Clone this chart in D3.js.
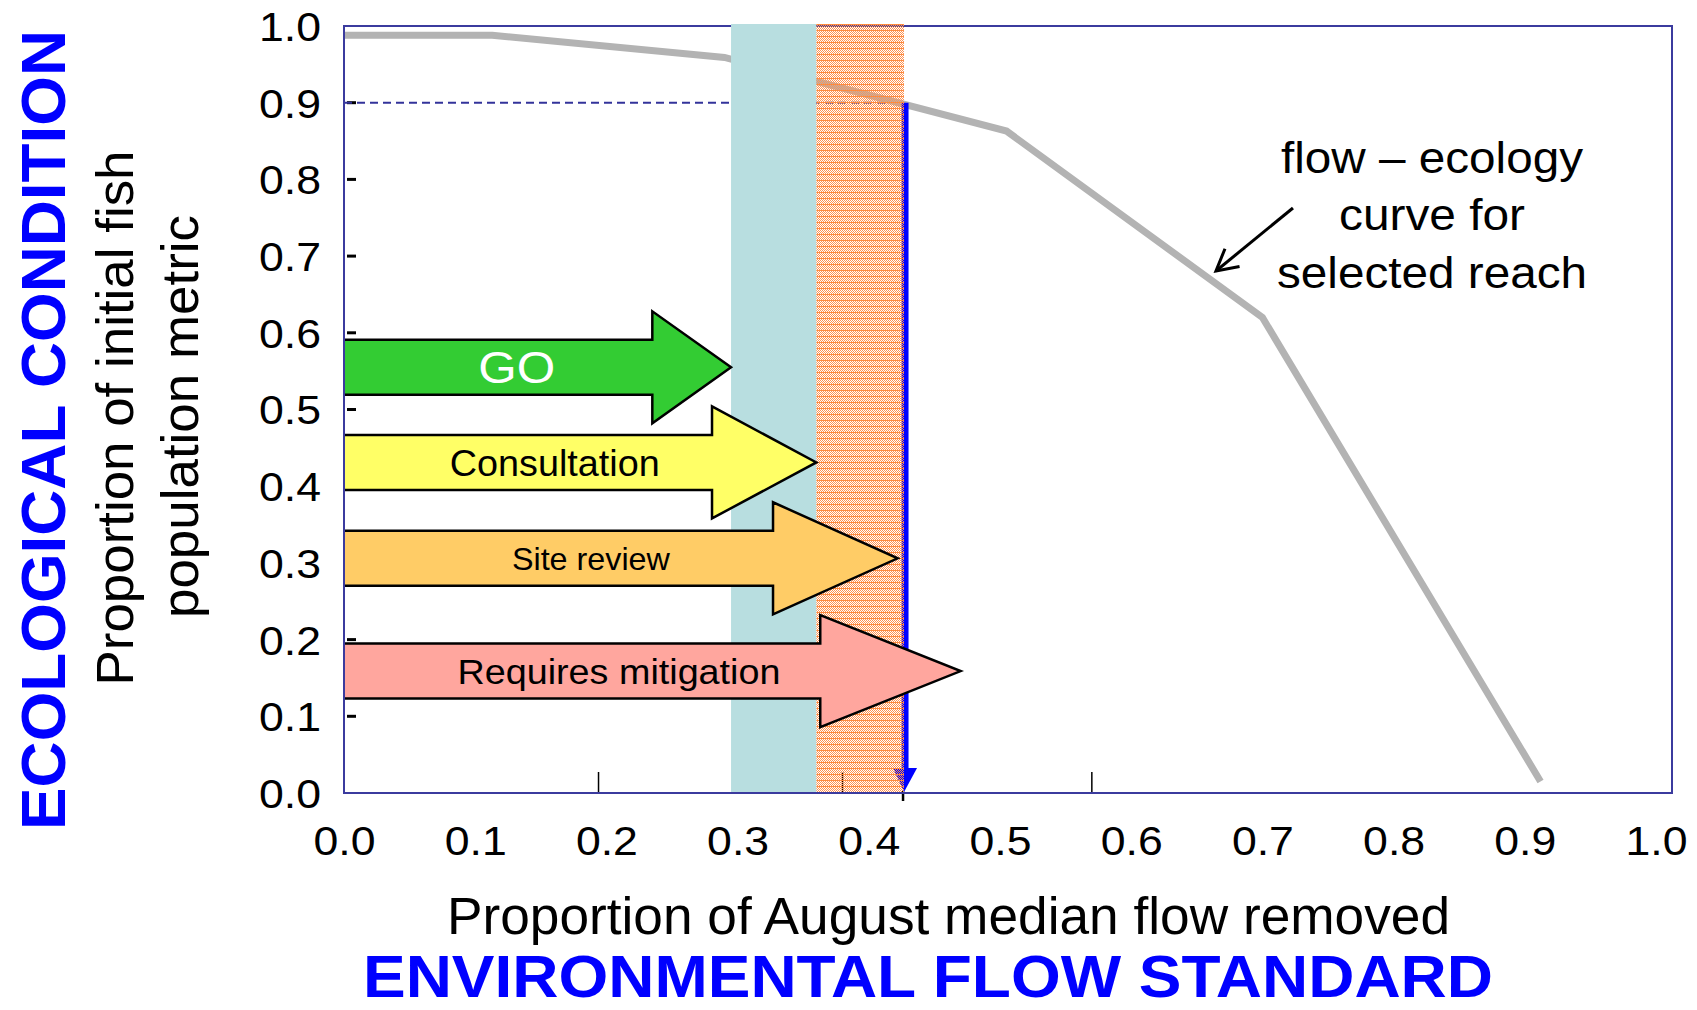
<!DOCTYPE html>
<html>
<head>
<meta charset="utf-8">
<script src="https://cdn.jsdelivr.net/npm/d3@7"></script>
<style>
  html, body { margin: 0; padding: 0; background: #fff; }
  svg { display: block; }
  text { font-family: "Liberation Sans", Arial, sans-serif; }
</style>
</head>
<body>
<svg id="chart" width="1697" height="1010"></svg>
<script>
// Flow–ecology curve for the selected reach
const flowRemoved = [0, 0.113, 0.29, 0.505, 0.70, 0.912];
const fishMetric  = [0.988, 0.988, 0.959, 0.863, 0.62, 0.015];

// Axis tick labels
const xTickValues = [0, 0.1, 0.2, 0.3, 0.4, 0.5, 0.6, 0.7, 0.8, 0.9, 1.0];
const yTickValues = [0, 0.1, 0.2, 0.3, 0.4, 0.5, 0.6, 0.7, 0.8, 0.9, 1.0];
const xMinorTicks = [0.194, 0.38, 0.57];

// Decision zones along the flow axis
const zoneStart = [0.295, 0.36];
const zoneEnd   = [0.36, 0.4268];

// Environmental flow standard
const standardFlow = 0.428;
const standardMetric = 0.9;

// Approval stages
const stageLabels    = ["GO", "Consultation", "Site review", "Requires mitigation"];
const stageLevel     = [0.555, 0.431, 0.306, 0.159];
const stageHeadStart = [0.235, 0.2805, 0.327, 0.363];
const stageReach     = [0.295, 0.36, 0.422, 0.47];

// ---- styles ----
const stageFill = ["#33cc33", "#ffff66", "#ffcc66", "#ffa69e"];
const stageText = ["#ffffff", "#000000", "#000000", "#000000"];
const stageFont = [45, 37, 32, 35];
const stageWidth = [77, 210, 158, 323];
const frameColor = "#3b3b9e";

const svg = d3.select("#chart");
const x = d3.scaleLinear().domain([0, 1]).range([344, 1656]);
const y = d3.scaleLinear().domain([0, 1]).range([793, 26]);
const frameRight = 1672;

// dithered orange fill for the second zone (lets the marks beneath show through)
const defs = svg.append("defs");
const pat = defs.append("pattern").attr("id", "orangeHatch")
  .attr("patternUnits", "userSpaceOnUse").attr("width", 6).attr("height", 6);
pat.append("rect").attr("x", 0).attr("y", 0).attr("width", 6).attr("height", 1).attr("fill", "#ff8a3d");
for (let r = 1; r < 6; r++) {
  for (let c = 0; c < 6; c++) {
    if ((r + c) % 2 === 0) {
      pat.append("rect").attr("x", c).attr("y", r).attr("width", 1).attr("height", 1).attr("fill", "#ff9251");
    }
  }
}

// y tick dashes inside the frame
svg.append("g").selectAll("line")
  .data(yTickValues.filter(v => v > 0 && v < 1))
  .join("line")
  .attr("x1", x(0) + 3).attr("x2", x(0) + 12)
  .attr("y1", d => y(d)).attr("y2", d => y(d))
  .attr("stroke", "#000").attr("stroke-width", 3);

// x tick marks rising from the base line
svg.append("g").selectAll("line")
  .data(xMinorTicks)
  .join("line")
  .attr("x1", d => x(d)).attr("x2", d => x(d))
  .attr("y1", y(0)).attr("y2", y(0) - 21)
  .attr("stroke", "#000").attr("stroke-width", 1.5);

// tick below the axis at the standard
svg.append("line")
  .attr("x1", x(standardFlow) - 2.5).attr("x2", x(standardFlow) - 2.5)
  .attr("y1", y(0) - 2).attr("y2", y(0) + 8)
  .attr("stroke", "#000").attr("stroke-width", 2.5);

// dashed reference at the standard's ecological level
svg.append("line")
  .attr("x1", x(0)).attr("x2", x(standardFlow))
  .attr("y1", y(standardMetric)).attr("y2", y(standardMetric))
  .attr("stroke", "#33339a").attr("stroke-width", 2)
  .attr("stroke-dasharray", "8,5");

// flow–ecology curve
const curve = flowRemoved.map((f, i) => [f, fishMetric[i]]);
svg.append("path")
  .datum(curve)
  .attr("d", d3.line().x(d => x(d[0])).y(d => y(d[1])))
  .attr("fill", "none").attr("stroke", "#b3b3b3").attr("stroke-width", 7)
  .attr("stroke-linejoin", "miter");

// vertical line down from the standard with arrowhead
const sx = x(standardFlow) - 0.5;
svg.append("line")
  .attr("x1", sx).attr("x2", sx)
  .attr("y1", y(standardMetric)).attr("y2", y(0) - 20)
  .attr("stroke", "#0000ff").attr("stroke-width", 7);
svg.append("path")
  .attr("d", `M${sx - 12},${y(0) - 25} L${sx + 12},${y(0) - 25} L${sx - 1},${y(0) - 1} Z`)
  .attr("fill", "#0000ff");

// frame
svg.append("rect")
  .attr("x", x(0)).attr("y", y(1))
  .attr("width", frameRight - x(0)).attr("height", y(0) - y(1))
  .attr("fill", "none").attr("stroke", frameColor).attr("stroke-width", 2);

// decision zones
svg.append("rect")
  .attr("x", x(zoneStart[0])).attr("y", y(1) - 2)
  .attr("width", x(zoneEnd[0]) - x(zoneStart[0])).attr("height", y(0) - y(1) + 1)
  .attr("fill", "#b8dee0");
svg.append("rect")
  .attr("x", x(zoneStart[1])).attr("y", y(1) - 2)
  .attr("width", x(zoneEnd[1]) - x(zoneStart[1])).attr("height", y(0) - y(1) + 1)
  .attr("fill", "url(#orangeHatch)");

// stage arrows
const bodyHalf = 27.5, headHalf = 56;
stageLabels.forEach((label, i) => {
  const t = x(0) + 1, h = x(stageHeadStart[i]), p = x(stageReach[i]), c = y(stageLevel[i]);
  const outline = `M${t},${c + bodyHalf} L${h},${c + bodyHalf} L${h},${c + headHalf} L${p},${c} ` +
                  `L${h},${c - headHalf} L${h},${c - bodyHalf} L${t},${c - bodyHalf}`;
  const g = svg.append("g");
  g.append("path").attr("d", outline + " Z").attr("fill", stageFill[i]);
  g.append("path").attr("d", outline).attr("fill", "none")
    .attr("stroke", "#000").attr("stroke-width", 2.5).attr("stroke-linejoin", "miter");
  const fs = stageFont[i];
  g.append("text")
    .attr("x", t + 0.445 * (p - t))
    .attr("y", c + fs * 0.358)
    .attr("text-anchor", "middle")
    .attr("font-size", fs)
    .attr("fill", stageText[i])
    .attr("textLength", stageWidth[i])
    .attr("lengthAdjust", "spacingAndGlyphs")
    .text(label);
});

// y axis labels
const yAxis = svg.append("g")
  .attr("transform", `translate(${x(0)},0)`)
  .call(d3.axisLeft(y).tickValues(yTickValues).tickFormat(d3.format(".1f")).tickSize(0).tickPadding(23));
yAxis.select(".domain").remove();
yAxis.selectAll("text")
  .attr("font-size", 40).attr("fill", "#000").attr("dy", "0.36em")
  .attr("textLength", 62).attr("lengthAdjust", "spacingAndGlyphs")
  .style("font-family", "'Liberation Sans', Arial, sans-serif");

// x axis labels
const xAxis = svg.append("g")
  .attr("transform", `translate(0,${y(0)})`)
  .call(d3.axisBottom(x).tickValues(xTickValues).tickFormat(d3.format(".1f")).tickSize(0).tickPadding(34));
xAxis.select(".domain").remove();
xAxis.selectAll("text")
  .attr("font-size", 40).attr("fill", "#000")
  .attr("textLength", 62).attr("lengthAdjust", "spacingAndGlyphs")
  .style("font-family", "'Liberation Sans', Arial, sans-serif");

// axis titles
svg.append("text")
  .attr("x", 948.5).attr("y", 934)
  .attr("text-anchor", "middle").attr("font-size", 51)
  .attr("textLength", 1003).attr("lengthAdjust", "spacingAndGlyphs")
  .text("Proportion of August median flow removed");
svg.append("text")
  .attr("x", 928).attr("y", 997)
  .attr("text-anchor", "middle").attr("font-size", 60).attr("font-weight", "bold")
  .attr("fill", "#0000ff")
  .attr("textLength", 1130).attr("lengthAdjust", "spacingAndGlyphs")
  .text("ENVIRONMENTAL FLOW STANDARD");

function vText(tx, ty, size, len, str, bold, fill) {
  svg.append("text")
    .attr("transform", `translate(${tx},${ty}) rotate(-90)`)
    .attr("text-anchor", "middle").attr("font-size", size)
    .attr("font-weight", bold ? "bold" : "normal")
    .attr("fill", fill)
    .attr("textLength", len).attr("lengthAdjust", "spacingAndGlyphs")
    .text(str);
}
vText(65, 430, 63.5, 800, "ECOLOGICAL CONDITION", true, "#0000ff");
vText(133, 418, 52.5, 535, "Proportion of initial fish", false, "#000");
vText(198, 416.5, 52.5, 403, "population metric", false, "#000");

// annotation for the curve
const noteLines = ["flow \u2013 ecology", "curve for", "selected reach"];
const noteWidths = [302, 186, 310];
const noteBase = [173, 230, 288];
noteLines.forEach((s, i) => {
  svg.append("text")
    .attr("x", 1432).attr("y", noteBase[i])
    .attr("text-anchor", "middle").attr("font-size", 44)
    .attr("textLength", noteWidths[i]).attr("lengthAdjust", "spacingAndGlyphs")
    .text(s);
});
const a0 = [x(0.7233), y(0.7627)], a1 = [x(0.6646), y(0.6806)];
svg.append("line")
  .attr("x1", a0[0]).attr("y1", a0[1]).attr("x2", a1[0]).attr("y2", a1[1])
  .attr("stroke", "#000").attr("stroke-width", 3);
const ang = Math.atan2(a0[1] - a1[1], a0[0] - a1[0]);
const armLen = 24, spread = 0.5;
const arm1 = [a1[0] + armLen * Math.cos(ang + spread), a1[1] + armLen * Math.sin(ang + spread)];
const arm2 = [a1[0] + armLen * Math.cos(ang - spread), a1[1] + armLen * Math.sin(ang - spread)];
svg.append("path")
  .attr("d", `M${arm1[0]},${arm1[1]} L${a1[0]},${a1[1]} L${arm2[0]},${arm2[1]}`)
  .attr("fill", "none").attr("stroke", "#000").attr("stroke-width", 3);
</script>
</body>
</html>
